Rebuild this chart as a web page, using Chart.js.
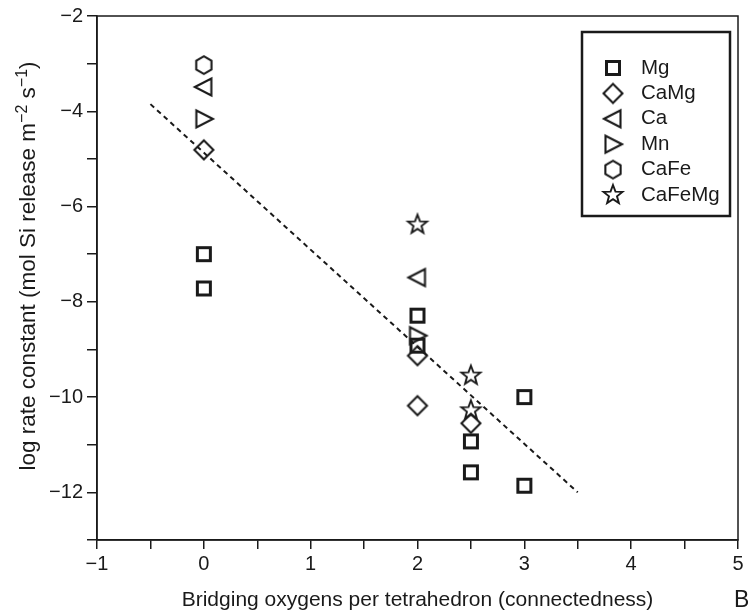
<!DOCTYPE html>
<html>
<head>
<meta charset="utf-8">
<script src="https://cdn.jsdelivr.net/npm/chart.js@4.4.1/dist/chart.umd.min.js"></script>
<style>
  html, body { margin: 0; padding: 0; background: #fff; }
  canvas { display: block; }
</style>
</head>
<body>
<canvas id="rates" width="748" height="614"></canvas>
<script>
// log rate constant vs. bridging oxygens, grouped by cation
var mgX = [0, 0, 2, 2, 2.5, 2.5, 3, 3];
var mgY = [-7.0, -7.72, -8.29, -8.92, -10.93, -11.58, -10.0, -11.86];
var camgX = [0, 2, 2, 2.5];
var camgY = [-4.81, -9.13, -10.18, -10.55];
var caX = [0, 2];
var caY = [-3.49, -7.49];
var mnX = [0, 2];
var mnY = [-4.16, -8.71];
var cafeX = [0];
var cafeY = [-3.03];
var cafemgX = [2, 2.5, 2.5];
var cafemgY = [-6.38, -9.55, -10.28];

// dashed regression line end points
var fitX = [-0.5, 3.5];
var fitY = [-3.85, -12.0];

var xTicks = [-1, 0, 1, 2, 3, 4, 5];
var yTicks = [-2, -4, -6, -8, -10, -12];

var INK = '#1a1a1a';
var FONT = "'Liberation Sans', Arial, Helvetica, sans-serif";

function pts(xs, ys) {
  return xs.map(function(x, i) { return { x: x, y: ys[i] }; });
}

function minus(v) {
  return v < 0 ? '\u2212' + Math.abs(v) : String(v);
}

/* hollow marker glyphs used as point styles */
function marker(kind) {
  var c = document.createElement('canvas');
  c.width = 26; c.height = 26;
  var g = c.getContext('2d');
  g.translate(13, 13);
  g.strokeStyle = INK;
  g.lineWidth = 2.1;
  g.lineJoin = 'miter';
  g.beginPath();
  var i, a, r;
  if (kind === 'square') {
    g.lineWidth = 3;
    g.rect(-6.5, -6.5, 13, 13);
  } else if (kind === 'diamond') {
    g.moveTo(0, -9.5); g.lineTo(9.5, 0); g.lineTo(0, 9.5); g.lineTo(-9.5, 0); g.closePath();
  } else if (kind === 'left') {
    g.moveTo(-9, 0); g.lineTo(7.5, -8.5); g.lineTo(7.5, 8.5); g.closePath();
  } else if (kind === 'right') {
    g.moveTo(9, 0); g.lineTo(-7.5, -8.5); g.lineTo(-7.5, 8.5); g.closePath();
  } else if (kind === 'hexagon') {
    for (i = 0; i < 6; i++) {
      a = (-90 + 60 * i) * Math.PI / 180;
      if (i === 0) g.moveTo(8.8 * Math.cos(a), 8.8 * Math.sin(a));
      else g.lineTo(8.8 * Math.cos(a), 8.8 * Math.sin(a));
    }
    g.closePath();
  } else if (kind === 'star') {
    g.lineWidth = 1.9;
    for (i = 0; i < 10; i++) {
      a = (-90 + 36 * i) * Math.PI / 180;
      r = i % 2 === 0 ? 10 : 4.2;
      if (i === 0) g.moveTo(r * Math.cos(a), r * Math.sin(a));
      else g.lineTo(r * Math.cos(a), r * Math.sin(a));
    }
    g.closePath();
  }
  g.stroke();
  return c;
}

function group(label, xs, ys, kind) {
  return {
    label: label,
    data: pts(xs, ys),
    pointStyle: marker(kind),
    pointRadius: 9,
    showLine: false
  };
}

var datasets = [
  group('Mg', mgX, mgY, 'square'),
  group('CaMg', camgX, camgY, 'diamond'),
  group('Ca', caX, caY, 'left'),
  group('Mn', mnX, mnY, 'right'),
  group('CaFe', cafeX, cafeY, 'hexagon'),
  group('CaFeMg', cafemgX, cafemgY, 'star'),
  {
    label: 'fit',
    data: pts(fitX, fitY),
    showLine: true,
    borderColor: INK,
    borderWidth: 2,
    borderDash: [5, 4],
    pointRadius: 0,
    fill: false
  }
];

/* rotated y title with raised exponents */
function drawYTitle(ctx, cx, cy) {
  var parts = [
    ['log rate constant (mol Si release m', 0],
    ['\u22122', 1],
    [' s', 0],
    ['\u22121', 1],
    [')', 0]
  ];
  var base = '22.5px ' + FONT, sup = '16px ' + FONT;
  var total = 0;
  parts.forEach(function(p) {
    ctx.font = p[1] ? sup : base;
    p.push(ctx.measureText(p[0]).width);
    total += p[2];
  });
  ctx.save();
  ctx.translate(cx, cy);
  ctx.rotate(-Math.PI / 2);
  ctx.textBaseline = 'alphabetic';
  ctx.textAlign = 'left';
  var x = -total / 2;
  parts.forEach(function(p) {
    ctx.font = p[1] ? sup : base;
    ctx.fillText(p[0], x, p[1] ? -1 : 7);
    x += p[2];
  });
  ctx.restore();
}

/* box frame, boxed legend, y title and panel letter */
var decorations = {
  id: 'decorations',
  afterDatasetsDraw: function(chart) {
    var ctx = chart.ctx, a = chart.chartArea;
    ctx.save();
    ctx.strokeStyle = INK;
    ctx.fillStyle = INK;
    ctx.lineWidth = 1.5;
    ctx.strokeRect(a.left, a.top, a.right - a.left, a.bottom - a.top);

    var bx = a.right - 156, by = a.top + 16;
    ctx.lineWidth = 2.5;
    ctx.strokeRect(bx, by, 148, 184);

    ctx.font = '20.5px ' + FONT;
    ctx.textBaseline = 'middle';
    var row = 0;
    chart.data.datasets.forEach(function(ds) {
      if (!ds.pointStyle) return;
      var y = by + 36 + row * 25.4;
      var img = ds.pointStyle;
      ctx.drawImage(img, bx + 31 - img.width / 2, y - img.height / 2);
      ctx.fillText(ds.label, bx + 59, y);
      row++;
    });

    drawYTitle(ctx, 28, (a.top + a.bottom) / 2 - 12);

    ctx.font = '23px ' + FONT;
    ctx.textBaseline = 'middle';
    ctx.fillText('B', a.right - 4, 601);
    ctx.restore();
  }
};

new Chart(document.getElementById('rates'), {
  type: 'scatter',
  data: { datasets: datasets },
  plugins: [decorations],
  options: {
    responsive: false,
    animation: false,
    events: [],
    layout: { padding: { top: 15, right: 6, left: 0, bottom: 0 } },
    plugins: {
      legend: { display: false },
      tooltip: { enabled: false }
    },
    scales: {
      x: {
        type: 'linear',
        min: -1,
        max: 5,
        afterFit: function(s) { s.height = 74; },
        afterBuildTicks: function(s) {
          var t = [];
          for (var v = -1; v <= 5.001; v += 0.5) t.push({ value: v });
          s.ticks = t;
        },
        ticks: {
          autoSkip: false,
          maxRotation: 0,
          padding: 3,
          color: INK,
          font: { family: FONT, size: 20 },
          callback: function(v) { return xTicks.indexOf(v) >= 0 ? minus(v) : ''; }
        },
        grid: { drawOnChartArea: false, tickLength: 9, color: INK, lineWidth: 1.5 },
        border: { display: true, color: INK, width: 1.5 },
        title: {
          display: true,
          text: 'Bridging oxygens per tetrahedron (connectedness)',
          color: INK,
          font: { family: FONT, size: 21 },
          padding: { top: 0, bottom: 1 }
        }
      },
      y: {
        type: 'linear',
        min: -13,
        max: -2,
        afterFit: function(s) { s.width = 97; },
        afterBuildTicks: function(s) {
          var t = [];
          for (var v = -13; v <= -2; v += 1) t.push({ value: v });
          s.ticks = t;
        },
        ticks: {
          autoSkip: false,
          padding: 4,
          color: INK,
          font: { family: FONT, size: 20 },
          callback: function(v) { return yTicks.indexOf(v) >= 0 ? minus(v) : ''; }
        },
        grid: { drawOnChartArea: false, tickLength: 10, color: INK, lineWidth: 1.5 },
        border: { display: true, color: INK, width: 1.5 }
      }
    }
  }
});
</script>
</body>
</html>
